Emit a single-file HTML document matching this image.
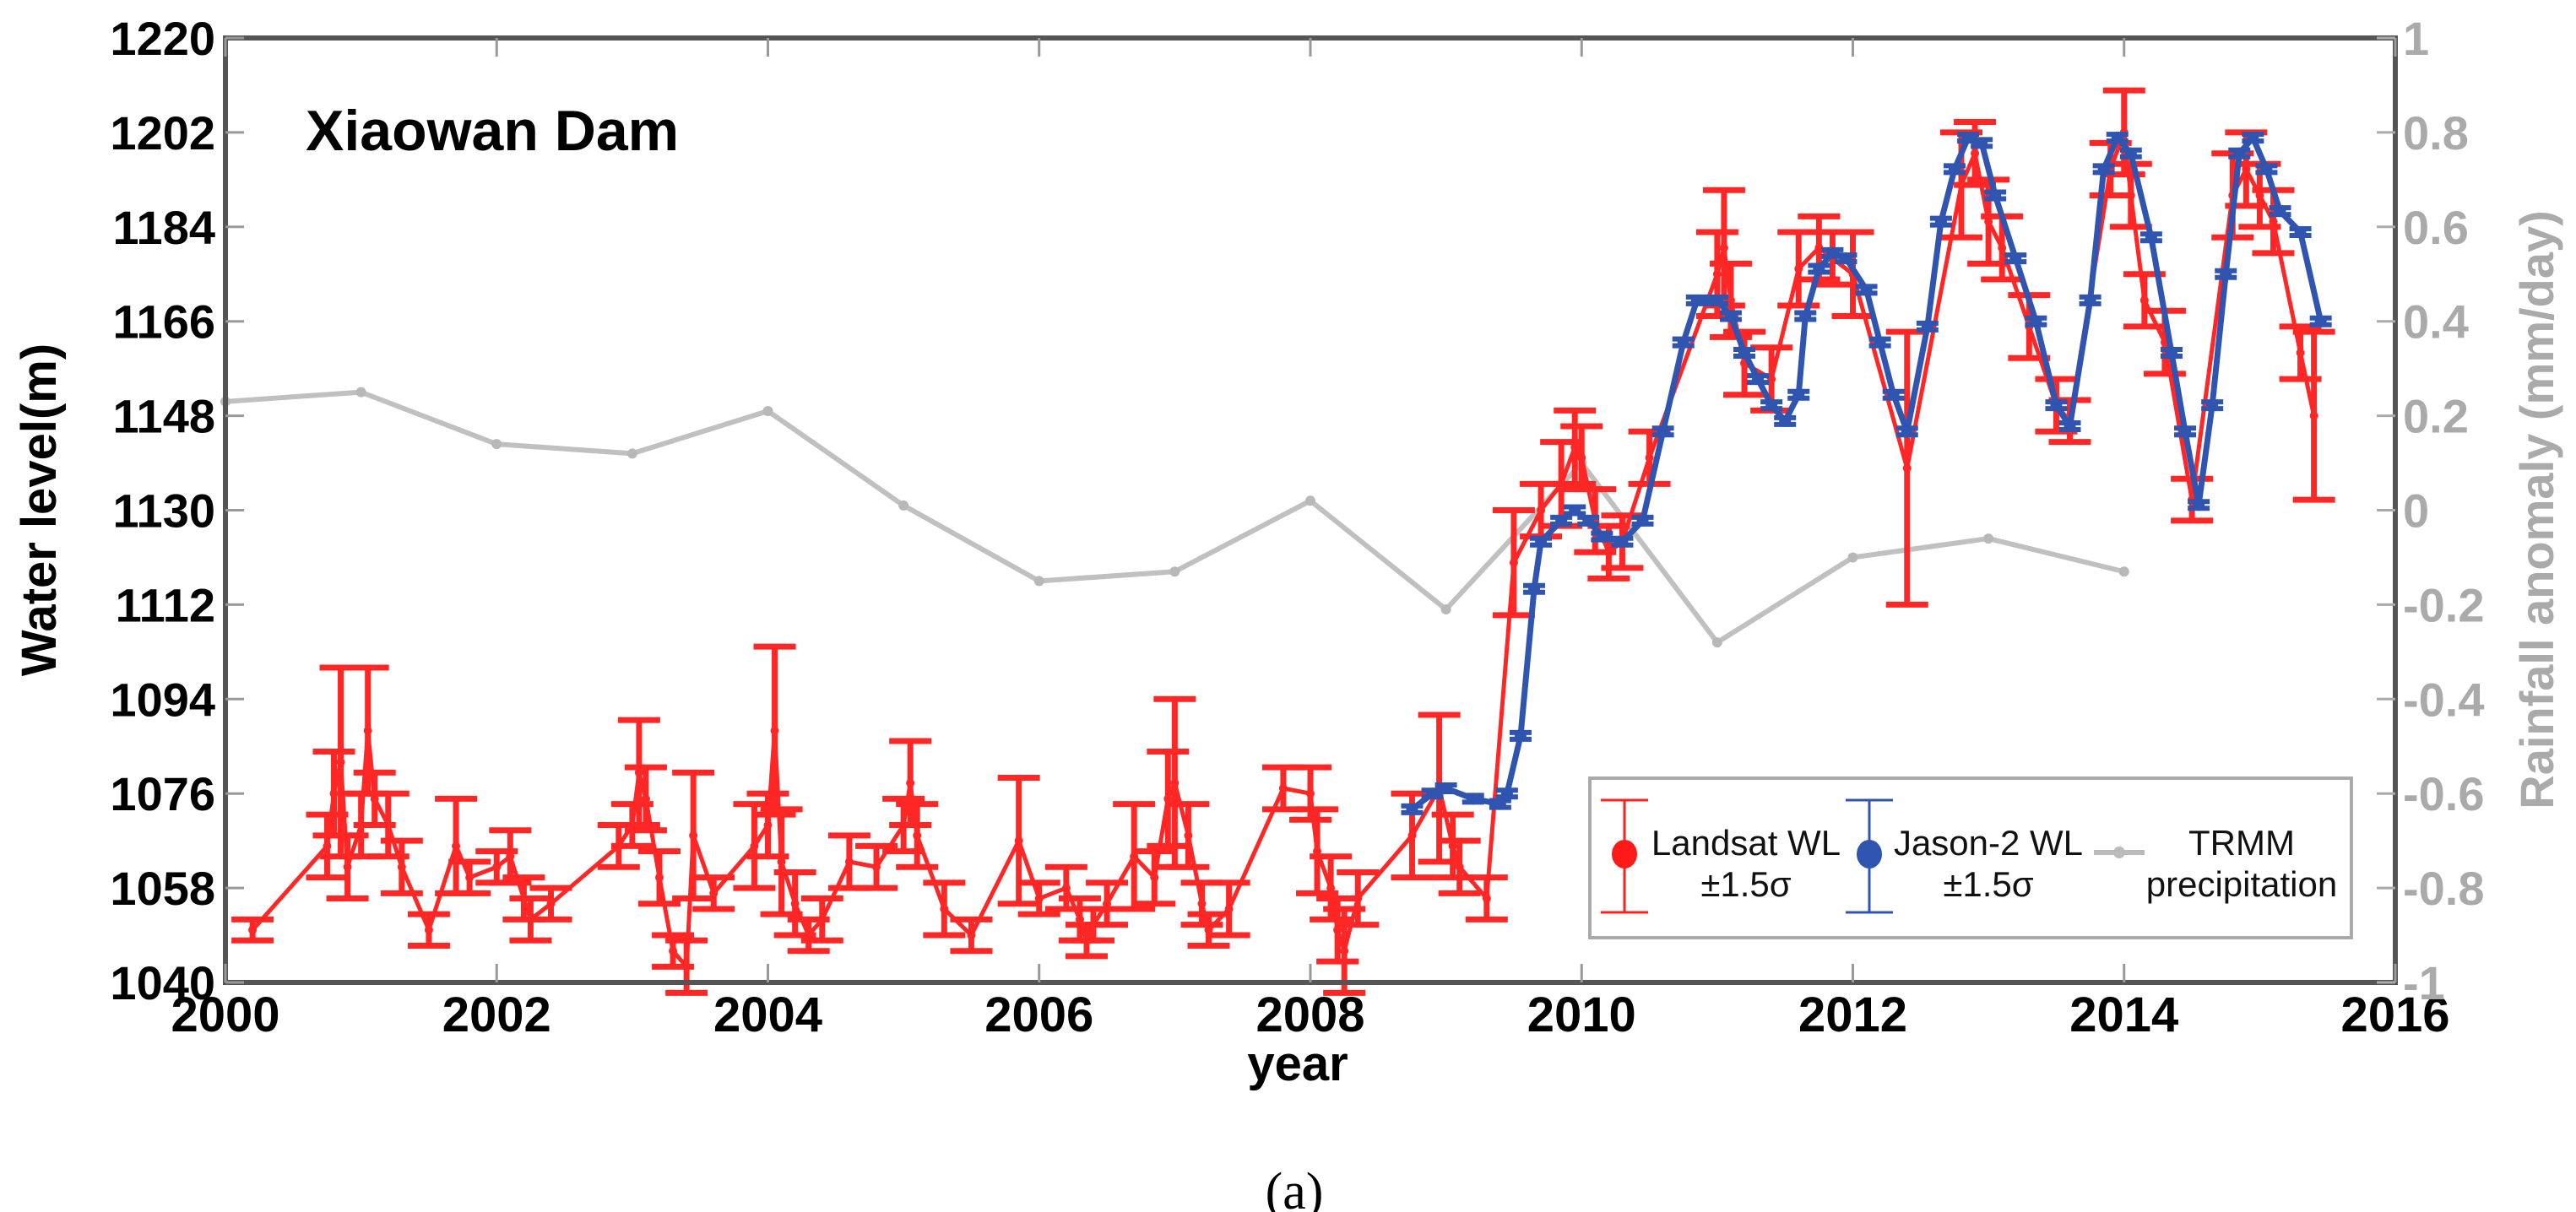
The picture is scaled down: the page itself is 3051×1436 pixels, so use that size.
<!DOCTYPE html>
<html><head><meta charset="utf-8">
<style>
html,body{margin:0;padding:0;background:#fff;}
svg{display:block;font-family:"Liberation Sans",Arial,sans-serif;}
</style></head>
<body>
<svg id="chart" width="3051" height="1436" viewBox="0 0 3051 1436" xmlns="http://www.w3.org/2000/svg">
  <g id="grid"></g>
  <g id="trmm-layer"></g>
  <g id="landsat-layer"></g>
  <g id="jason-layer"></g>
  <rect x="267" y="45" width="2570" height="1119" fill="none" stroke="#555" stroke-width="6"/>
  <g id="axes"></g>
  <text x="362" y="178" font-size="68" font-weight="bold" fill="#000">Xiaowan Dam</text>
  <text transform="translate(66,604) rotate(-90)" text-anchor="middle" font-size="58" font-weight="bold" fill="#000">Water level(m)</text>
  <text transform="translate(3024,604) rotate(-90)" text-anchor="middle" font-size="56" font-weight="bold" fill="#aaa">Rainfall anomaly (mm/day)</text>
  <text x="1537" y="1280" text-anchor="middle" font-size="58" font-weight="bold" fill="#000">year</text>
  <text x="1533" y="1432" text-anchor="middle" font-size="62" font-family="Liberation Serif,serif" fill="#000">(a)</text>
  <g>
    <rect x="1883" y="922" width="902" height="189" fill="#fff" stroke="#aaa" stroke-width="4"/>
    <g>
      <line x1="1924" y1="948" x2="1924" y2="1081" stroke="#ff2020" stroke-width="3"/>
      <line x1="1896" y1="948" x2="1952" y2="948" stroke="#ff2020" stroke-width="3"/>
      <line x1="1896" y1="1081" x2="1952" y2="1081" stroke="#ff2020" stroke-width="3"/>
      <ellipse cx="1924" cy="1012" rx="15" ry="17" fill="#ff1a1a"/>
      <text x="2068" y="1013" text-anchor="middle" font-size="42" fill="#111">Landsat WL</text>
      <text x="2068" y="1062" text-anchor="middle" font-size="42" fill="#111">±1.5σ</text>
    </g>
    <g>
      <line x1="2214" y1="948" x2="2214" y2="1081" stroke="#2f55b0" stroke-width="3"/>
      <line x1="2186" y1="948" x2="2242" y2="948" stroke="#2f55b0" stroke-width="3"/>
      <line x1="2186" y1="1081" x2="2242" y2="1081" stroke="#2f55b0" stroke-width="3"/>
      <ellipse cx="2214" cy="1012" rx="15" ry="17" fill="#2f55b0"/>
      <text x="2355" y="1013" text-anchor="middle" font-size="42" fill="#111">Jason-2 WL</text>
      <text x="2355" y="1062" text-anchor="middle" font-size="42" fill="#111">±1.5σ</text>
    </g>
    <g>
      <line x1="2480" y1="1010" x2="2540" y2="1010" stroke="#bbb" stroke-width="6"/>
      <circle cx="2510" cy="1010" r="7" fill="#bbb"/>
      <text x="2655" y="1013" text-anchor="middle" font-size="42" fill="#111">TRMM</text>
      <text x="2655" y="1062" text-anchor="middle" font-size="42" fill="#111">precipitation</text>
    </g>
  </g>
</svg>
<script>
const xTicks = [2000,2002,2004,2006,2008,2010,2012,2014,2016];
const yTicks = [1040,1058,1076,1094,1112,1130,1148,1166,1184,1202,1220];
const y2Ticks = [-1,-0.8,-0.6,-0.4,-0.2,0,0.2,0.4,0.6,0.8,1];
const y2Labels = ["-1","-0.8","-0.6","-0.4","-0.2","0","0.2","0.4","0.6","0.8","1"];

const trmmYears = [2000,2001,2002,2003,2004,2005,2006,2007,2008,2009,2010,2011,2012,2013,2014];
const trmmValues = [0.23,0.25,0.14,0.12,0.21,0.01,-0.15,-0.13,0.02,-0.21,0.1,-0.28,-0.1,-0.06,-0.13];

const landsatYears = [2000.2,2000.75,2000.8,2000.85,2000.9,2001.0,2001.05,2001.1,2001.2,2001.3,2001.5,2001.7,2001.8,2002.0,2002.1,2002.2,2002.25,2002.4,2002.9,2003.0,2003.05,2003.1,2003.2,2003.3,2003.4,2003.45,2003.6,2003.9,2004.0,2004.05,2004.1,2004.2,2004.3,2004.4,2004.6,2004.8,2005.0,2005.05,2005.1,2005.3,2005.5,2005.85,2006.0,2006.2,2006.3,2006.35,2006.4,2006.5,2006.7,2006.85,2006.95,2007.0,2007.1,2007.2,2007.25,2007.4,2007.8,2008.0,2008.05,2008.15,2008.2,2008.25,2008.35,2008.75,2008.95,2009.05,2009.1,2009.3,2009.5,2009.7,2009.85,2009.95,2010.0,2010.1,2010.2,2010.3,2010.5,2011.0,2011.05,2011.1,2011.2,2011.4,2011.6,2011.75,2011.85,2012.0,2012.4,2012.8,2012.9,2013.0,2013.1,2013.3,2013.5,2013.6,2013.9,2014.0,2014.05,2014.15,2014.3,2014.5,2014.8,2014.9,2015.0,2015.1,2015.3,2015.4];
const landsatLevels = [1050,1066,1076,1082,1062,1070,1088,1075,1070,1062,1050,1066,1060,1062,1064,1056,1052,1055,1066,1070,1080,1075,1060,1046,1043,1068,1057,1066,1070,1088,1063,1055,1049,1052,1063,1062,1070,1078,1068,1054,1049,1067,1056,1058,1052,1048,1051,1055,1064,1060,1075,1078,1068,1055,1050,1054,1077,1076,1065,1058,1050,1046,1056,1068,1077,1066,1062,1056,1120,1130,1135,1142,1140,1128,1122,1124,1140,1175,1180,1170,1158,1155,1176,1180,1178,1175,1138,1192,1198,1185,1180,1165,1150,1147,1195,1202,1190,1170,1162,1132,1190,1195,1190,1185,1160,1148];
const landsatErrors = [2,6,8,18,6,6,12,5,6,5,3,9,3,3,5,4,4,3,4,4,10,6,5,3,5,12,3,8,6,16,10,6,3,4,5,4,5,8,6,5,3,12,3,4,4,3,3,4,10,5,9,16,6,4,3,5,4,5,8,6,6,8,5,8,14,6,5,4,10,5,8,7,6,6,5,5,5,8,11,7,6,6,7,6,5,8,26,10,6,8,6,6,5,4,5,8,6,5,6,4,8,7,6,6,5,16];

const jasonYears = [2008.75,2008.9,2009.0,2009.2,2009.4,2009.45,2009.55,2009.65,2009.7,2009.85,2009.95,2010.05,2010.15,2010.3,2010.45,2010.6,2010.75,2010.85,2011.0,2011.1,2011.2,2011.3,2011.4,2011.5,2011.6,2011.65,2011.75,2011.85,2011.95,2012.1,2012.2,2012.3,2012.4,2012.55,2012.65,2012.75,2012.85,2012.95,2013.05,2013.2,2013.35,2013.5,2013.6,2013.75,2013.85,2013.95,2014.05,2014.2,2014.35,2014.45,2014.55,2014.65,2014.75,2014.85,2014.95,2015.05,2015.15,2015.3,2015.45];
const jasonLevels = [1073,1076,1077,1075,1074,1076,1087,1115,1124,1128,1130,1128,1125,1124,1128,1145,1162,1170,1170,1167,1160,1155,1150,1147,1152,1167,1176,1179,1178,1172,1162,1152,1145,1165,1185,1195,1201,1200,1190,1178,1166,1150,1146,1170,1195,1201,1198,1182,1160,1145,1131,1150,1175,1198,1201,1195,1187,1183,1166];

const NS = "http://www.w3.org/2000/svg";
const L = 267, R = 2837, T = 45, B = 1164;
function xs(v){ return L + (v - 2000) / 16 * (R - L); }
function ys(v){ return B - (v - 1040) / 180 * (B - T); }
function y2s(v){ return B - (v + 1) / 2 * (B - T); }
function mk(tag, attrs, parent){
  const e = document.createElementNS(NS, tag);
  for (const k in attrs) e.setAttribute(k, attrs[k]);
  parent.appendChild(e);
  return e;
}
const axes = document.getElementById('axes');
xTicks.forEach(t => {
  const x = xs(t);
  const tk = mk('line', {x1:x, y1:B, x2:x, y2:B-22, stroke:'#999', 'stroke-width':3}, axes);
  
  
  const tk2 = mk('line', {x1:x, y1:T, x2:x, y2:T+22, stroke:'#999', 'stroke-width':3}, axes);
  
  
  const lb = mk('text', {x:x, y:1222, 'text-anchor':'middle', 'font-size':58, 'font-weight':'bold', fill:'#000'}, axes);
  lb.textContent = t;
  
  
});
yTicks.forEach(t => {
  const y = ys(t);
  const tk = mk('line', {x1:L, y1:y, x2:L+22, y2:y, stroke:'#999', 'stroke-width':3}, axes);
  
  
  const lb = mk('text', {x:255, y:y+20, 'text-anchor':'end', 'font-size':56, 'font-weight':'bold', fill:'#000'}, axes);
  lb.textContent = t;
  
  
});
y2Ticks.forEach((t, i) => {
  const y = y2s(t);
  const tk = mk('line', {x1:R-22, y1:y, x2:R, y2:y, stroke:'#aaa', 'stroke-width':3}, axes);
  
  
  const lb = mk('text', {x:2846, y:y+20, 'text-anchor':'start', 'font-size':56, 'font-weight':'bold', fill:'#aaa'}, axes);
  lb.textContent = y2Labels[i];
  
  
});

// TRMM
const tl = document.getElementById('trmm-layer');
const tPts = trmmYears.map((yr, i) => xs(yr) + ',' + y2s(trmmValues[i])).join(' ');
const tLine = mk('polyline', {points:tPts, fill:'none', stroke:'#c0c0c0', 'stroke-width':6, 'stroke-linejoin':'round'}, tl);


trmmYears.forEach((yr, i) => {
  const c = mk('circle', {cx:xs(yr), cy:y2s(trmmValues[i]), r:6, fill:'#b8b8b8'}, tl);
  
  
});

// Landsat
const ll = document.getElementById('landsat-layer');
const lPts = landsatYears.map((yr, i) => xs(yr) + ',' + ys(landsatLevels[i])).join(' ');
const lLine = mk('polyline', {points:lPts, fill:'none', stroke:'#ff2626', 'stroke-width':5, 'stroke-linejoin':'round'}, ll);


landsatYears.forEach((yr, i) => {
  const x = xs(yr), y0 = ys(landsatLevels[i] - landsatErrors[i]), y1 = ys(landsatLevels[i] + landsatErrors[i]);
  const g = mk('g', {stroke:'#ff2626', 'stroke-width':7}, ll);
  
  
  mk('line', {x1:x, y1:y0, x2:x, y2:y1}, g);
  mk('line', {x1:x-25, y1:y0, x2:x+25, y2:y0}, g);
  mk('line', {x1:x-25, y1:y1, x2:x+25, y2:y1}, g);
  const c = mk('circle', {cx:x, cy:ys(landsatLevels[i]), r:5, fill:'#ff2626', stroke:'none'}, ll);
  
  
});

// Jason-2
const jl = document.getElementById('jason-layer');
const jPts = jasonYears.map((yr, i) => xs(yr) + ',' + ys(jasonLevels[i])).join(' ');
const jLine = mk('polyline', {points:jPts, fill:'none', stroke:'#2f55b0', 'stroke-width':7, 'stroke-linejoin':'round'}, jl);


jasonYears.forEach((yr, i) => {
  const x = xs(yr), y = ys(jasonLevels[i]);
  const g = mk('g', {stroke:'#2f55b0', 'stroke-width':6}, jl);
  
  
  mk('line', {x1:x-13, y1:y-4, x2:x+13, y2:y-4}, g);
  mk('line', {x1:x-13, y1:y+4, x2:x+13, y2:y+4}, g);
  const c = mk('circle', {cx:x, cy:y, r:7, fill:'#2f55b0', stroke:'none'}, jl);
  
  
});
</script>
</body></html>
